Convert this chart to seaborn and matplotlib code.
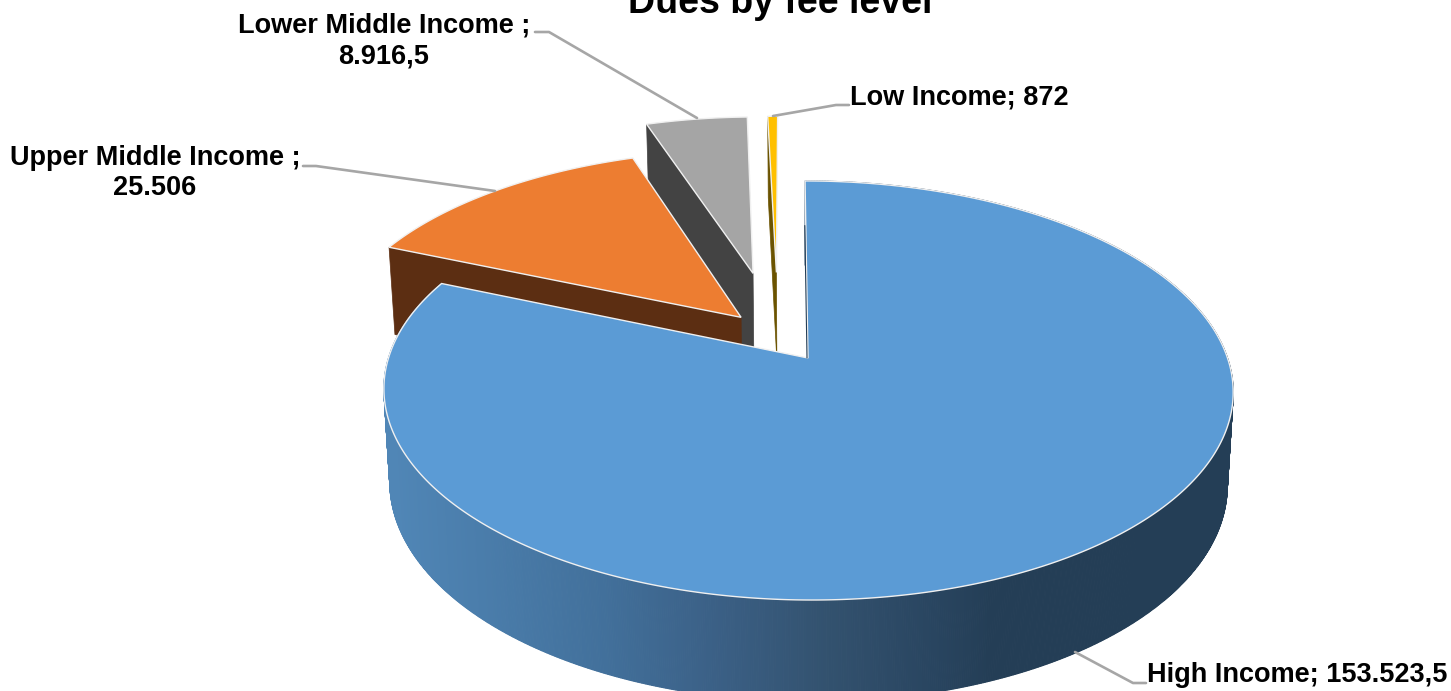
import numpy as np
import matplotlib
matplotlib.use("Agg")
import matplotlib.pyplot as plt
from matplotlib.patches import Polygon
import seaborn as sns

# ---- data ----
categories = ["High Income", "Upper Middle Income", "Lower Middle Income", "Low Income"]
values = [153523.5, 25506, 8916.5, 872]
title = "Dues by fee level"

# ---- layout & style ----
top_colors = ["#5B9BD5", "#ED7D31", "#A5A5A5", "#FFC000"]
side_colors = ["#243E56", "#5C2E12", "#434343", "#6B5300"]
explode = [0.141, 0.12, 0.33, 0.33]
nudge_u = [0.0, -0.003, 0.0, 0.006]
edge_col = "#F0F0F0"
leader_col = "#A6A6A6"
X0, Y0, A, B, K, SKEW = 808.0, 358.0, 419.5, 204.5, 0.155, 22.0
DEPTH, SHRINK, VX = 92.0, 0.986, 810.0
rim_x = [395, 604, 714, 824, 934, 990, 1240]
rim_hex = ["#5086B6", "#42709B", "#3B6086", "#33526F", "#294560", "#243E56", "#243E56"]
label_font = 19.5

sns.set_theme(style="white")
plt.rcParams["font.family"] = ["Liberation Sans", "DejaVu Sans"]
fig, ax = plt.subplots(figsize=(14.51, 6.91), dpi=100)
fig.subplots_adjust(0, 0, 1, 1)
ax.set_xlim(0, 1451)
ax.set_ylim(691, 0)
ax.axis("off")
sns.despine(ax=ax, left=True, bottom=True)


def project(u, v, lower=False):
    u, v = np.asarray(u, float), np.asarray(v, float)
    s = 1.0 / (1.0 + K * v)
    x = X0 + A * u * s - SKEW * (1 - s)
    y = Y0 - B * v * s
    if lower:
        x = VX + (x - VX) * SHRINK
        y = y + DEPTH * s ** 0.6
    return np.column_stack([x, y])


fractions = np.array(values) / np.sum(values)
edges = np.concatenate([[0], np.cumsum(fractions) * 2 * np.pi])
mids = (edges[:-1] + edges[1:]) / 2
off_u = np.array(explode) * np.sin(mids)
off_v = np.array(explode) * np.cos(mids)
off_u, off_v = off_u - off_u[0] + np.array(nudge_u), off_v - off_v[0]

rim_rgb = np.array(sns.color_palette(rim_hex))


def rim_color(x):
    return tuple(np.interp(x, rim_x, rim_rgb[:, c]) for c in range(3))


for i in [3, 2, 1, 0]:
    ou, ov = off_u[i], off_v[i]
    t0, t1 = edges[i], edges[i + 1]
    th = np.linspace(t0, t1, max(6, int(np.degrees(t1 - t0) * 4)))
    ru, rv = ou + np.sin(th), ov + np.cos(th)
    z = i * -10 + 40

    # radial side facing the viewer's left
    if i > 0:
        pts_u = [ou, ru[0]]
        pts_v = [ov, rv[0]]
        face = np.vstack([project(pts_u, pts_v), project(pts_u, pts_v, True)[::-1]])
        ax.add_patch(Polygon(face, closed=True, fc=side_colors[i], ec=side_colors[i], lw=0.5, zorder=z))

    # outer rim, only for the slice where it can be seen
    if i == 0:
        upper, lower = project(ru, rv), project(ru, rv, True)
        for a in range(len(th) - 1):
            quad = np.vstack([upper[a:a + 2], lower[a:a + 2][::-1]])
            col = rim_color(quad[:, 0].mean())
            ax.add_patch(Polygon(quad, closed=True, fc=col, ec=col, lw=0.8, zorder=z))

    # top face
    top = np.vstack([project([ou], [ov]), project(ru, rv)])
    ax.add_patch(Polygon(top, closed=True, fc=top_colors[i], ec=edge_col, lw=1.0,
                         joinstyle="miter", zorder=z + 1))

# thin dark sliver on the first edge of the large slice
sl = project([0, 0], [0, 0.72])
ax.plot(sl[:, 0] - 1.0, sl[:, 1], color=side_colors[0], lw=0.8, zorder=45)


# ---- labels ----
def fmt(v):
    s = f"{v:,.1f}" if v != int(v) else f"{int(v):,}"
    return s.replace(",", "#").replace(".", ",").replace("#", ".")


label_texts = [
    f"{categories[0]}; {fmt(values[0])}",
    f"{categories[1]} ;\n{fmt(values[1])}",
    f"{categories[2]} ;\n{fmt(values[2])}",
    f"{categories[3]}; {fmt(values[3])}",
]
label_pos = [(1297, 675), (155, 173), (384, 41), (959, 97)]
leaders = [
    [(1075, 652), (1133, 683), (1146, 683)],
    [(495, 191), (316, 166), (303, 166)],
    [(697, 118), (549, 32), (535, 32)],
    [(773, 116), (836, 105), (849, 105)],
]
for txt, pos, path in zip(label_texts, label_pos, leaders):
    p = np.array(path)
    ax.plot(p[:, 0], p[:, 1], color=leader_col, lw=1.9, zorder=50, solid_joinstyle="round")
    ax.text(pos[0], pos[1], txt, ha="center", va="center", fontsize=label_font,
            fontweight="bold", color="black", linespacing=1.23, zorder=60)

ax.text(780, 13, title, ha="center", va="baseline", fontsize=27, fontweight="bold",
        color="black", zorder=60, clip_on=False)

fig.savefig("out.png", dpi=100)
